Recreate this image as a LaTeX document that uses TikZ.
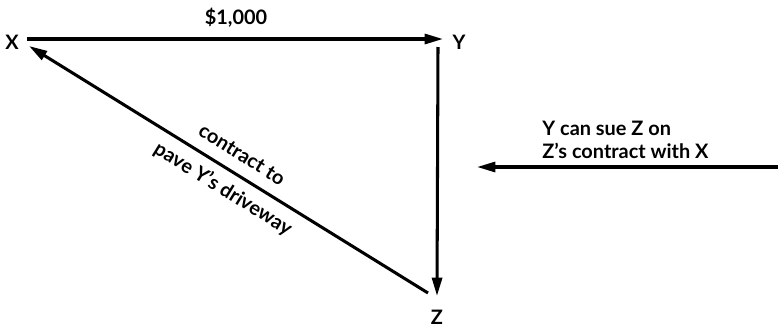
\documentclass[tikz,border=0pt]{standalone}
\usepackage{fontspec}
\setmainfont{Lato}
\usetikzlibrary{arrows.meta}

\begin{document}
\begin{tikzpicture}[x=0.03cm,y=-0.03cm,>={Triangle[length=5.5mm,width=3mm]},
  lbl/.style={font=\fontsize{17}{19}\selectfont\bfseries,inner sep=1pt},
  arr/.style={->,line width=2.6pt}]
  \useasboundingbox (0,0) rectangle (778,327);
  \node[lbl] (X) at (12,42) {X};
  \node[lbl] (Y) at (459,42) {Y};
  \node[lbl] (Z) at (437,317) {Z};
  \node[lbl] (amount) at (236,18) {\$1,000};
  \coordinate (xr) at (27,39);
  \coordinate (yl) at (443,39);
  \coordinate (yb) at (438,47);
  \coordinate (zt) at (437,296);
  \coordinate (zl) at (428,293);
  \coordinate (xb) at (29,46);
  \coordinate (rr) at (778,167);
  \coordinate (rl) at (477,167);
  \draw[arr] (xr) -- (yl);
  \draw[arr] (yb) -- (zt);
  \draw[arr] (zl) -- (xb);
  \draw[arr] (rr) -- (rl);
  \node[lbl,rotate=-31.8] (deal) at (242,155) {contract to};
  \node[lbl,rotate=-31.8] (pave) at (223,189) {pave Y's driveway};
  \node[lbl,align=left,anchor=west] (sue) at (541,140) {Y can sue Z on\\Z's contract with X};
\end{tikzpicture}
\end{document}
